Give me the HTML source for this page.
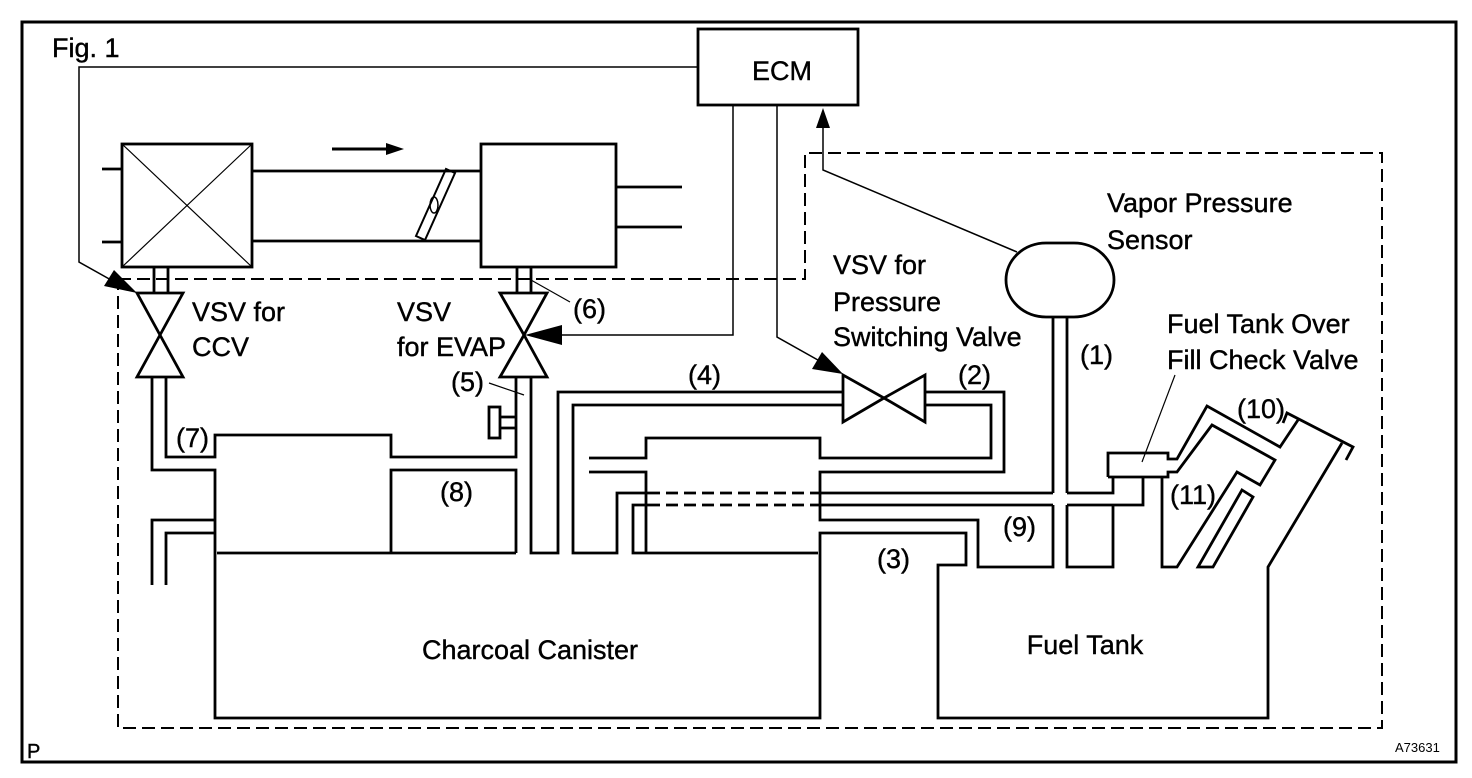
<!DOCTYPE html>
<html><head><meta charset="utf-8"><style>
html,body{margin:0;padding:0;background:#fff;}
svg{display:block;}
text{font-family:"Liberation Sans",Arial,sans-serif;font-size:27px;fill:#000;stroke:#000;stroke-width:0.4;}
</style></head><body>
<svg width="1472" height="778" viewBox="0 0 1472 778" xmlns="http://www.w3.org/2000/svg">
<g fill="none" stroke="#000" stroke-width="2.8" stroke-linejoin="miter">
<rect x="22" y="22" width="1434" height="740" stroke-width="3"/>
<path d="M118,279 L805,279 L805,153 L1382,153 L1382,728 L118,728 Z" stroke-dasharray="13,6" stroke-width="2"/>
<rect x="698" y="29" width="160" height="76"/>
<path d="M698,67 L79,67 L79,262 L120,285" stroke-width="1.5"/>
<polygon points="137,293 104,286 114,270" fill="#000" stroke="none"/>
<path d="M733,105 L733,335 L560,335" stroke-width="1.5"/>
<polygon points="525,335 562,325 562,345" fill="#000" stroke="none"/>
<path d="M777,105 L777,337 L825,364" stroke-width="1.5"/>
<polygon points="843,374 812,369 822,352" fill="#000" stroke="none"/>
<path d="M1017,252 L823,170 L823,125" stroke-width="1.5"/>
<polygon points="823,108 816,128 830,128" fill="#000" stroke="none"/>
<rect x="122" y="144" width="130" height="123"/>
<path d="M122,144 L252,267 M252,144 L122,267" stroke-width="1.2"/>
<path d="M102,169 L122,169 M102,242 L122,242"/>
<path d="M252,171 L481,171 M252,241 L481,241"/>
<path d="M416,236 L446,169 L455,173 L425,240 Z" stroke-width="2"/>
<ellipse cx="434" cy="205" rx="4" ry="8" stroke-width="1.5"/>
<path d="M332,149 L388,149" stroke-width="3"/>
<polygon points="404,149 386,143 386,155" fill="#000" stroke="none"/>
<rect x="481" y="144" width="135" height="123"/>
<path d="M616,187 L682,187 M616,227 L682,227"/>
<path d="M154,267 L154,293 M168,267 L168,293"/>
<polygon points="137,293 183,293 160,335"/>
<polygon points="137,377 183,377 160,335"/>
<path d="M517,267 L517,293 M531,267 L531,293"/>
<polygon points="500,293 547,293 524,335"/>
<polygon points="500,377 547,377 524,335"/>
<path d="M570,302 L531,280" stroke-width="1.2"/>
<path d="M489,383 L524,395" stroke-width="1.2"/>
<path d="M152,377 L152,470 L215,470 L215,718 L820,718 L820,533 L966,533 L966,565 L938,565 L938,718 L1268,718 L1268,567 L1342,443"/>
<path d="M166,377 L166,457 L215,457 L215,435 L391,435 L391,457 L516,457 L516,377"/>
<rect x="489" y="407" width="11" height="31"/>
<path d="M500,417 L516,417 M500,428 L516,428"/>
<path d="M391,553 L391,470 L516,470 L516,553 M217,553 L516,553"/>
<path d="M152,585 L152,520 L215,520 M166,585 L166,533 L215,533"/>
<path d="M531,377 L531,553 L558,553 L558,392 L843,392"/>
<path d="M843,405 L573,405 L573,553 L617,553 L617,493 L648,493"/>
<path d="M648,493 L818,493 M648,505 L818,505" stroke-dasharray="12,6"/>
<path d="M818,493 L1053,493 M1067,493 L1113,493 L1113,477"/>
<path d="M648,505 L633,505 L633,553 L818,553"/>
<path d="M818,505 L1053,505 M1067,505 L1143,505 L1143,477"/>
<path d="M1113,505 L1113,567 L1067,567 L1067,505 M1067,493 L1067,317 M1053,317 L1053,493 M1053,505 L1053,567 L978,567 L978,520 L820,520 L820,472 L1004,472 L1004,392 L925,392"/>
<path d="M925,405 L991,405 L991,458 L820,458 L820,438 L646,438 L646,458 L589,458 M589,472 L646,472 L646,553"/>
<polygon points="843,375 843,422 884,398"/>
<polygon points="925,375 925,422 884,398"/>
<rect x="1006" y="243" width="108" height="74" rx="40" ry="37"/>
<path d="M1108,477 L1108,453 L1168,453 L1168,459 L1177,459 L1207,406 L1280,447 L1298,420"/>
<path d="M1108,477 L1168,477 L1168,472 L1177,472 L1212,425 L1275,460 L1260,485 L1237,472 L1177,567 L1162,567 L1162,477"/>
<path d="M1283,423 L1287,413 L1353,447 L1346,460"/>
<polygon points="1242,490 1253,497 1213,567 1198,567"/>
<path d="M1175,375 L1142,462" stroke-width="1.2"/>
</g>
<text x="52" y="57">Fig. 1</text>
<text x="782" y="80" text-anchor="middle">ECM</text>
<text x="192" y="321">VSV for</text>
<text x="192" y="356">CCV</text>
<text x="397" y="321">VSV</text>
<text x="397" y="356">for EVAP</text>
<text x="573" y="318">(6)</text>
<text x="451" y="391">(5)</text>
<text x="176" y="447">(7)</text>
<text x="440" y="501">(8)</text>
<text x="688" y="384">(4)</text>
<text x="958" y="384">(2)</text>
<text x="833" y="274">VSV for</text>
<text x="833" y="311">Pressure</text>
<text x="833" y="346">Switching Valve</text>
<text x="1107" y="212">Vapor Pressure</text>
<text x="1107" y="249">Sensor</text>
<text x="1080" y="364">(1)</text>
<text x="1167" y="333">Fuel Tank Over</text>
<text x="1167" y="369">Fill Check Valve</text>
<text x="1237" y="418">(10)</text>
<text x="1170" y="504">(11)</text>
<text x="1003" y="536">(9)</text>
<text x="877" y="568">(3)</text>
<text x="530" y="659" text-anchor="middle">Charcoal Canister</text>
<text x="1085" y="654" text-anchor="middle">Fuel Tank</text>
<text x="27" y="758" style="font-size:20px">P</text>
<text x="1395" y="752" style="font-size:13px;stroke-width:0">A73631</text>
</svg>
</body></html>
